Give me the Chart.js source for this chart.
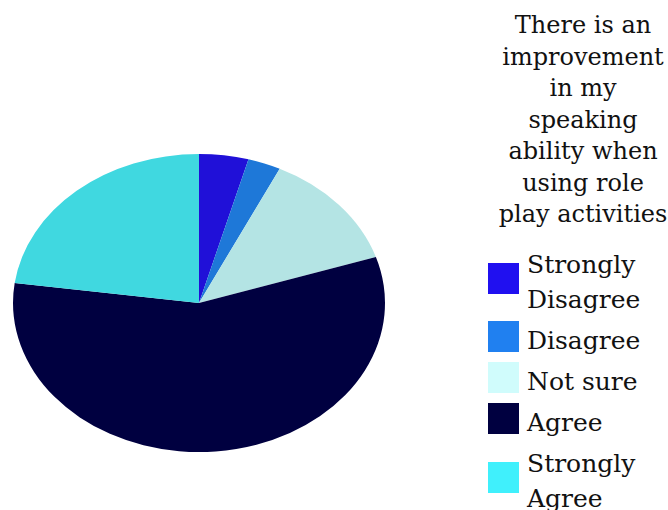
<!DOCTYPE html>
<html>
<head>
<meta charset="utf-8">
<script src="https://cdn.jsdelivr.net/npm/chart.js@4/dist/chart.umd.min.js"></script>
<style>
  html, body { margin: 0; padding: 0; background: #fff; }
  #page { position: relative; width: 668px; height: 510px; overflow: hidden; font-family: "DejaVu Serif", serif; color: #111; }
  #pieBox { position: absolute; left: 0; top: 0; width: 400px; height: 510px; }
  #side { position: absolute; left: 488px; top: 10px; width: 190px; }
  #title { font-size: 24px; line-height: 31.5px; text-align: center; width: 190px; margin-left: 0; }
  #legend { margin-top: 16.5px; }
  .item { display: flex; align-items: center; margin-bottom: 6px; }
  .box { width: 31px; height: 31px; flex: none; margin-right: 8px; transform: translateY(-4px); }
  .label { font-size: 25px; line-height: 35px; white-space: nowrap; }
</style>
</head>
<body>
<div id="page">
  <div id="pieBox"><canvas id="pie"></canvas></div>
  <div id="side">
    <div id="title"></div>
    <div id="legend"></div>
  </div>
</div>
<script>
// responses (count of students)
const labels = [['Strongly', 'Disagree'], ['Disagree'], ['Not sure'], ['Agree'], ['Strongly', 'Agree']];
const counts = [3, 2, 9, 40, 16];
const pieColors = ['#2010d8', '#1e78d8', '#b4e4e4', '#000040', '#40d8e0'];
const keyColors = ['#2010f0', '#2080f0', '#d0fcfc', '#000040', '#40f0fc'];
const titleLines = ['There is an', 'improvement', 'in my', 'speaking', 'ability when', 'using role', 'play activities'];

// pie is drawn as a circle and squashed into an ellipse
const stretchX = 186 / 149;

const ellipse = {
  id: 'ellipse',
  beforeDatasetsDraw(chart) {
    const arc = chart.getDatasetMeta(0).data[0];
    const ctx = chart.ctx;
    ctx.save();
    ctx.translate(arc.x, arc.y);
    ctx.scale(stretchX, 1);
    ctx.translate(-arc.x, -arc.y);
  },
  afterDatasetsDraw(chart) {
    chart.ctx.restore();
  }
};

new Chart(document.getElementById('pie'), {
  type: 'pie',
  data: {
    labels: labels.map(l => l.join(' ')),
    datasets: [{
      data: counts,
      backgroundColor: pieColors,
      borderWidth: 0
    }]
  },
  options: {
    responsive: true,
    maintainAspectRatio: false,
    animation: false,
    layout: { padding: { left: 50, right: 52, top: 154, bottom: 58 } },
    plugins: {
      legend: { display: false },
      tooltip: { enabled: false }
    }
  },
  plugins: [ellipse]
});

document.getElementById('title').innerHTML = titleLines.join('<br>');

const legend = document.getElementById('legend');
labels.forEach((l, i) => {
  const row = document.createElement('div');
  row.className = 'item';
  const box = document.createElement('div');
  box.className = 'box';
  box.style.background = keyColors[i];
  const txt = document.createElement('div');
  txt.className = 'label';
  txt.innerHTML = l.join('<br>');
  row.appendChild(box);
  row.appendChild(txt);
  legend.appendChild(row);
});
</script>
</body>
</html>
